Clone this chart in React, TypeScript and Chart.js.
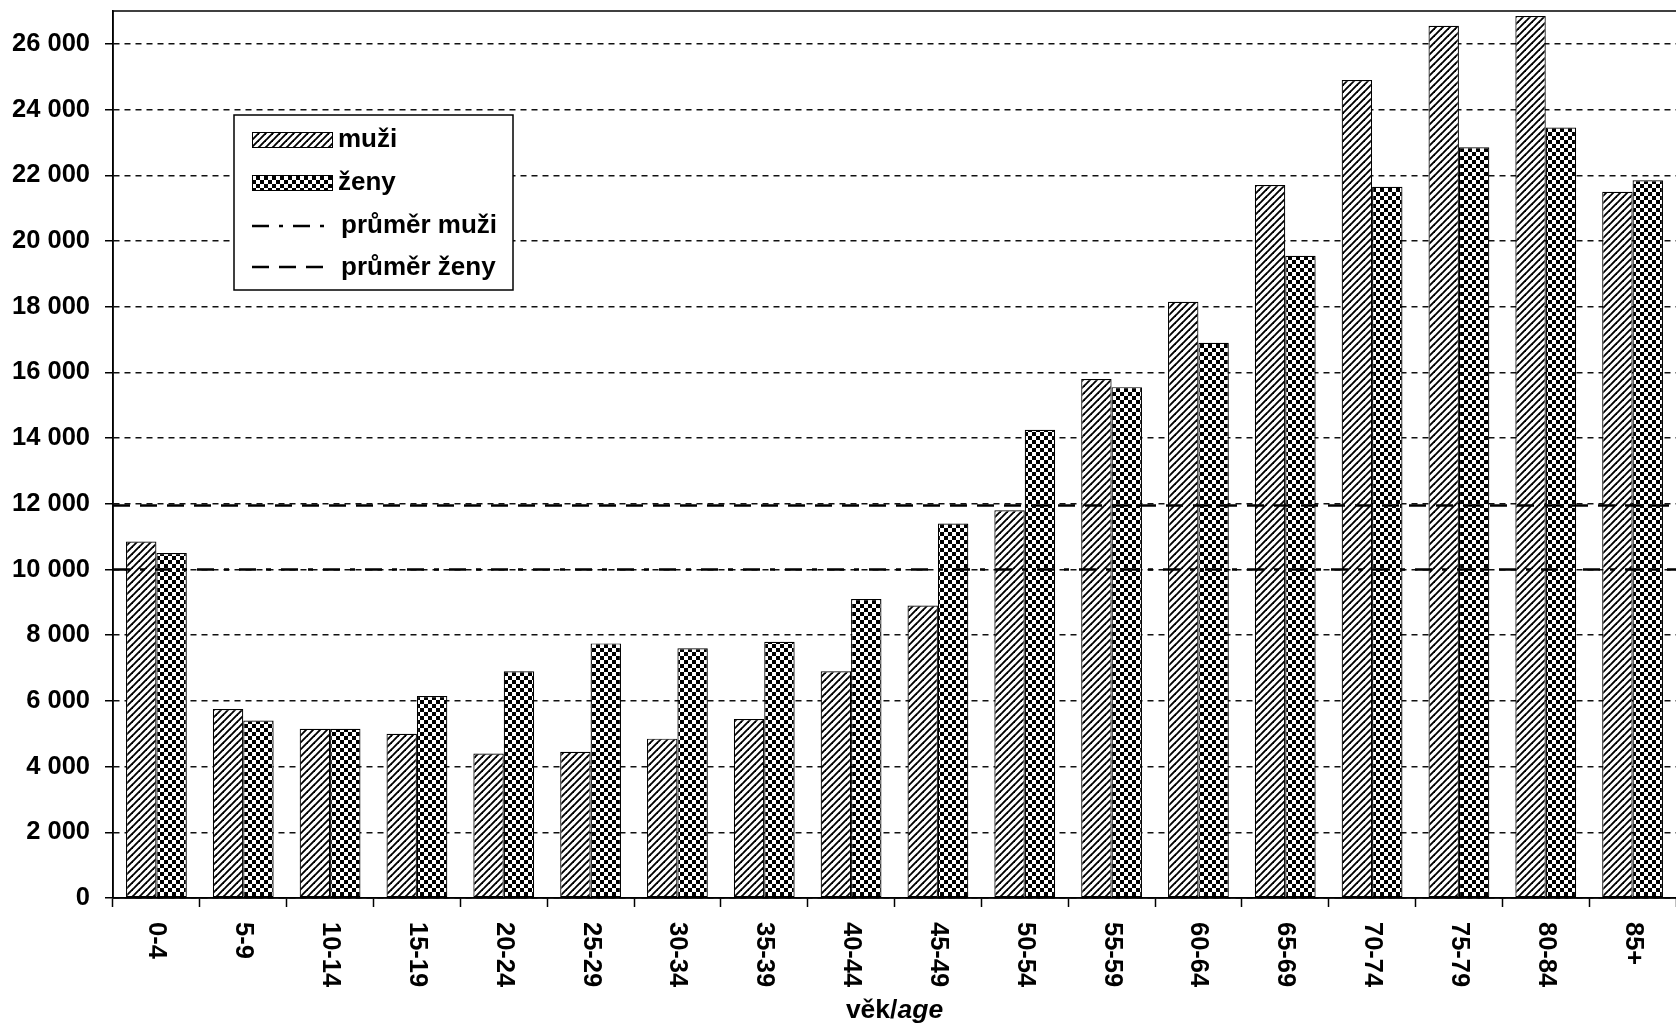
import React, { useEffect, useRef } from "react";
import { Chart, registerables } from "chart.js";

Chart.register(...registerables);

const CATEGORIES = ["0-4", "5-9", "10-14", "15-19", "20-24", "25-29", "30-34", "35-39", "40-44", "45-49", "50-54", "55-59", "60-64", "65-69", "70-74", "75-79", "80-84", "85+"];
const MUZI = [10850, 5750, 5150, 5000, 4400, 4450, 4850, 5450, 6900, 8900, 11800, 15800, 18150, 21700, 24900, 26550, 26850, 21500];
const ZENY = [10500, 5400, 5150, 6150, 6900, 7750, 7600, 7800, 9100, 11400, 14250, 15550, 16900, 19550, 21650, 22850, 23450, 21850];
const PRUMER_MUZI = 10000;
const PRUMER_ZENY = 11950;
const Y_MAX = 27000;
const Y_TICKS = [0, 2000, 4000, 6000, 8000, 10000, 12000, 14000, 16000, 18000, 20000, 22000, 24000, 26000];
const LEGEND_LABELS = ["muži", "ženy", "průměr muži", "průměr ženy"];
const AXIS_TITLE_BOLD = "věk/";
const AXIS_TITLE_ITALIC = "age";

const FONT = "'Liberation Sans', Arial, sans-serif";
const DASH_MUZI = [17, 10, 5, 10];
const DASH_ZENY = [17, 10];

function makeHatch(): CanvasPattern {
  const c = document.createElement("canvas");
  const s = 7;
  c.width = s; c.height = s;
  const g = c.getContext("2d")!;
  g.fillStyle = "#fff";
  g.fillRect(0, 0, s, s);
  g.strokeStyle = "#000";
  g.lineWidth = 1.9;
  for (let k = -1; k <= 1; k++) {
    const x0 = k * s;
    g.beginPath();
    g.moveTo(x0 - 1, s + 1);
    g.lineTo(x0 + s + 1, -1);
    g.stroke();
  }
  return g.createPattern(c, "repeat")!;
}

function makeChecker(): CanvasPattern {
  const c = document.createElement("canvas");
  const cell = 4;
  c.width = cell * 2; c.height = cell * 2;
  const g = c.getContext("2d")!;
  g.fillStyle = "#fff";
  g.fillRect(0, 0, cell * 2, cell * 2);
  g.fillStyle = "#000";
  g.fillRect(0, 0, cell, cell);
  g.fillRect(cell, cell, cell, cell);
  return g.createPattern(c, "repeat")!;
}

function fmt(v: number): string {
  return String(v).replace(/\B(?=(\d{3})+(?!\d))/g, " ");
}

export default function App() {
  const ref = useRef<HTMLCanvasElement | null>(null);

  useEffect(() => {
    if (!ref.current) return;
    const hatch = makeHatch();
    const checker = makeChecker();

    const overlay = {
      id: "overlay",
      afterDatasetsDraw(chart: any) {
        const { ctx, chartArea: a, scales } = chart;
        const x = scales.x;
        const y = scales.y;
        ctx.save();
        // average lines
        ctx.strokeStyle = "#000";
        ctx.lineWidth = 2.5;
        ctx.setLineDash(DASH_ZENY);
        let py = y.getPixelForValue(PRUMER_ZENY);
        ctx.beginPath(); ctx.moveTo(a.left, py); ctx.lineTo(a.right, py); ctx.stroke();
        ctx.setLineDash(DASH_MUZI);
        py = y.getPixelForValue(PRUMER_MUZI);
        ctx.beginPath(); ctx.moveTo(a.left, py); ctx.lineTo(a.right, py); ctx.stroke();
        ctx.setLineDash([]);

        // plot borders (top, left, bottom)
        ctx.lineWidth = 1.5;
        ctx.beginPath(); ctx.moveTo(a.left, a.top); ctx.lineTo(a.right, a.top); ctx.stroke();
        ctx.beginPath(); ctx.moveTo(a.left, a.top); ctx.lineTo(a.left, a.bottom); ctx.stroke();
        ctx.beginPath(); ctx.moveTo(a.left, a.bottom); ctx.lineTo(a.right, a.bottom); ctx.stroke();

        // legend
        const bx = 234, by = 115, bw = 279, bh = 175;
        ctx.fillStyle = "#fff";
        ctx.fillRect(bx, by, bw, bh);
        ctx.lineWidth = 1.5;
        ctx.strokeRect(bx, by, bw, bh);
        const baselines = [147, 190, 233, 275];
        const sx = 252, sw = 80, sh = 15;
        ctx.fillStyle = hatch;
        ctx.fillRect(sx, 132, sw, sh);
        ctx.lineWidth = 1;
        ctx.strokeRect(sx + 0.5, 132.5, sw, sh);
        ctx.fillStyle = checker;
        ctx.fillRect(sx, 175, sw, sh);
        ctx.strokeRect(sx + 0.5, 175.5, sw, sh);
        ctx.lineWidth = 2.5;
        ctx.setLineDash([17, 10, 4, 10]);
        ctx.beginPath(); ctx.moveTo(sx, 226); ctx.lineTo(328, 226); ctx.stroke();
        ctx.setLineDash(DASH_ZENY);
        ctx.beginPath(); ctx.moveTo(sx, 267); ctx.lineTo(328, 267); ctx.stroke();
        ctx.setLineDash([]);
        ctx.fillStyle = "#000";
        ctx.font = `bold 26px ${FONT}`;
        ctx.textAlign = "left";
        ctx.textBaseline = "alphabetic";
        LEGEND_LABELS.forEach((t, i) => {
          const tx = i < 2 ? 338 : 341;
          ctx.fillText(t, tx, baselines[i]);
        });

        // x labels rotated clockwise
        ctx.font = `bold 25.5px ${FONT}`;
        ctx.textAlign = "left";
        ctx.textBaseline = "middle";
        CATEGORIES.forEach((lab, i) => {
          const px = x.getPixelForValue(i);
          ctx.save();
          ctx.translate(px, 922);
          ctx.rotate(Math.PI / 2);
          ctx.fillText(lab, 0, 0);
          ctx.restore();
        });

        // axis title
        ctx.textBaseline = "alphabetic";
        const fb = `bold 26.5px ${FONT}`;
        const fi = `italic bold 26.5px ${FONT}`;
        ctx.font = fb;
        const w1 = ctx.measureText(AXIS_TITLE_BOLD).width;
        ctx.font = fi;
        const w2 = ctx.measureText(AXIS_TITLE_ITALIC).width;
        const start = (a.left + a.right) / 2 - (w1 + w2) / 2;
        ctx.font = fb;
        ctx.fillText(AXIS_TITLE_BOLD, start, 1018);
        ctx.font = fi;
        ctx.fillText(AXIS_TITLE_ITALIC, start + w1, 1018);
        ctx.restore();
      },
    };

    const chart = new Chart(ref.current, {
      type: "bar",
      data: {
        labels: CATEGORIES,
        datasets: [
          {
            label: LEGEND_LABELS[0],
            data: MUZI,
            backgroundColor: hatch as any,
            borderColor: "#000",
            borderWidth: 1.2,
            borderSkipped: false,
            categoryPercentage: 0.7,
            barPercentage: 1.0,
          },
          {
            label: LEGEND_LABELS[1],
            data: ZENY,
            backgroundColor: checker as any,
            borderColor: "#000",
            borderWidth: 1.2,
            borderSkipped: false,
            categoryPercentage: 0.7,
            barPercentage: 1.0,
          },
        ],
      },
      options: {
        responsive: false,
        animation: false,
        layout: { padding: { top: 11, left: 0, right: 0, bottom: 0 } },
        plugins: { legend: { display: false }, tooltip: { enabled: false } },
        scales: {
          x: {
            grid: {
              display: true,
              drawOnChartArea: false,
              drawTicks: true,
              tickLength: 9,
              tickColor: "#000",
              tickWidth: 1.5,
              offset: true,
            },
            border: { display: true, color: "#000", width: 1.5 },
            ticks: { display: false },
            afterFit(scale: any) {
              scale.height = 130;
              scale.paddingLeft = 0;
              scale.paddingRight = 0;
            },
          },
          y: {
            min: 0,
            max: Y_MAX,
            afterBuildTicks(scale: any) {
              scale.ticks = Y_TICKS.map((v) => ({ value: v }));
            },
            ticks: {
              autoSkip: false,
              padding: 15,
              color: "#000",
              font: { family: FONT, size: 25.5, weight: "bold" },
              callback: (v: any) => fmt(Number(v)),
            },
            grid: {
              color: "#111",
              lineWidth: 1.5,
              tickBorderDash: [],
              tickColor: "#000",
              tickWidth: 1.5,
              tickLength: 8,
              drawTicks: true,
            } as any,
            border: { display: true, color: "#000", width: 1.5, dash: [6, 5] },
            afterFit(scale: any) {
              scale.width = 113;
              scale.paddingTop = 0;
              scale.paddingBottom = 0;
            },
          },
        },
      } as any,
      plugins: [overlay],
    });
    return () => chart.destroy();
  }, []);

  return (
    <div style={{ position: "absolute", left: 0, top: 0, width: 1676, height: 1028, background: "#fff", overflow: "hidden" }}>
      <canvas ref={ref} width={1676} height={1028} style={{ display: "block" }} />
    </div>
  );
}
